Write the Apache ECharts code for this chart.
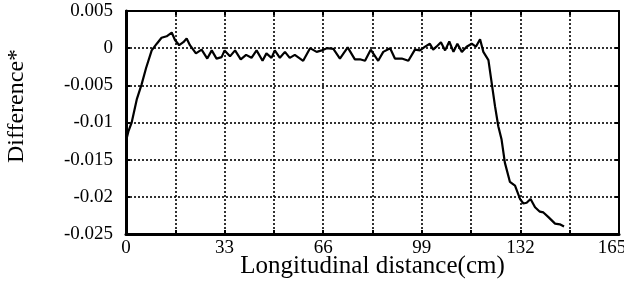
<!DOCTYPE html>
<html>
<head>
<meta charset="utf-8">
<script src="https://cdn.jsdelivr.net/npm/echarts@6/dist/echarts.min.js"></script>
<style>
  html, body { margin: 0; padding: 0; background: #fff; }
  #chart { width: 624px; height: 286px; }
</style>
</head>
<body>
<div id="chart"></div>
<script>
// longitudinal distance (cm)
const xs = [0, 0.8, 1.9, 3.6, 5.2, 6.7, 8.6, 10.3, 11.9, 13.6, 15.3, 16.4, 17.8, 19.2, 20.3, 21.4, 23.4, 25.3, 27.2, 28.7,
  30.3, 32.0, 33.0, 34.8, 36.5, 38.4, 40.2, 42.0, 43.7, 45.7, 47.0, 48.7, 49.8, 51.5, 53.2, 54.8, 56.5, 59.3, 61.6, 63.8,
  65.5, 67.2, 69.4, 71.6, 74.2, 76.6, 78.3, 80.0, 81.9, 84.4, 86.1, 88.4, 90.0, 92.3, 94.5, 96.7, 98.4, 100.1, 101.7, 102.8,
  103.9, 105.4, 106.8, 108.2, 109.6, 110.9, 112.4, 114.0, 115.7, 117.1, 118.5, 119.6, 121.3, 122.4, 123.5, 124.6, 125.7, 126.8, 128.5, 130.2,
  131.9, 133.0, 134.1, 135.4, 136.9, 138.5, 139.7, 141.3, 143.6, 145.2, 145.8, 146.6]
// difference*
const ys = [-0.0125, -0.0112, -0.0100, -0.0069, -0.0049, -0.0027, -0.0003, 0.0006, 0.0014, 0.0016, 0.0021, 0.0011, 0.0004, 0.0008, 0.0013, 0.0004, -0.0007, -0.0002, -0.0014, -0.0003,
  -0.0014, -0.0012, -0.0003, -0.0011, -0.0003, -0.0015, -0.0009, -0.0013, -0.0003, -0.0017, -0.0007, -0.0013, -0.0003, -0.0013, -0.0005, -0.0013, -0.0009, -0.0017, 0.0000, -0.0005,
  -0.0003, 0.0000, -0.0001, -0.0014, 0.0001, -0.0015, -0.0015, -0.0017, -0.0002, -0.0017, -0.0005, 0.0000, -0.0014, -0.0014, -0.0017, -0.0002, -0.0003, 0.0002, 0.0006, -0.0002,
  0.0002, 0.0008, -0.0003, 0.0009, -0.0005, 0.0006, -0.0005, 0.0002, 0.0006, 0.0002, 0.0012, -0.0005, -0.0016, -0.0047, -0.0078, -0.0105, -0.0123, -0.0154, -0.0180, -0.0185,
  -0.0203, -0.0209, -0.0208, -0.0203, -0.0214, -0.0220, -0.0221, -0.0227, -0.0236, -0.0237, -0.0236, -0.0240]
const xLabels = [0, 33, 66, 99, 132, 165]
const yTicks = [-0.025, -0.02, -0.015, -0.01, -0.005, 0, 0.005]

const font = 'Liberation Serif'
const chart = echarts.init(document.getElementById('chart'))

const dotted = { show: true, lineStyle: { color: '#000', width: 1.6, type: [2, 2] } }
const frame = (w) => ({ show: true, onZero: false, lineStyle: { color: '#000', width: w } })
const ticks = { show: true, inside: true, length: 4, lineStyle: { color: '#000', width: 2 } }

const option = {
  animation: false,
  grid: { left: 126, right: 5, top: 11, bottom: 52, outerBoundsMode: 'none', containLabel: false },
  graphic: [
    {
      // y axis title, sits a bit above the axis middle in the original
      type: 'text', x: 17, y: 106, rotation: Math.PI / 2,
      style: { text: 'Difference*', font: '24px "Liberation Serif"', fill: '#000', align: 'center', verticalAlign: 'middle' }
    }
  ],
  xAxis: [
    {
      type: 'value', min: 0, max: 165, interval: 16.5,
      name: 'Longitudinal distance(cm)', nameLocation: 'middle', nameGap: 20, nameMoveOverlap: false,
      nameTextStyle: { fontFamily: font, fontSize: 25, color: '#000', verticalAlign: 'top' },
      axisLine: frame(3), axisTick: ticks, splitLine: dotted,
      axisLabel: {
        fontFamily: font, fontSize: 19, color: '#000', margin: 5,
        formatter: (v) => {
          const r = Math.round(v * 10) / 10
          if (xLabels.indexOf(r) < 0) return ''
          return r === 165 ? '{m|165}' : String(r)
        },
        rich: { m: { fontFamily: font, fontSize: 19, color: '#000', padding: [0, 14, 0, 0] } }
      }
    },
    {
      type: 'value', position: 'top', min: 0, max: 165, interval: 16.5,
      axisLine: frame(2), axisTick: ticks, splitLine: { show: false }, axisLabel: { show: false }
    }
  ],
  yAxis: [
    {
      type: 'value', min: -0.025, max: 0.005, interval: 0.005,
      axisLine: frame(3), axisTick: ticks, splitLine: dotted,
      axisLabel: {
        fontFamily: font, fontSize: 19, color: '#000', margin: 13,
        formatter: (v) => {
          const t = yTicks.find((k) => Math.abs(k - v) < 1e-9)
          return t === undefined ? '' : String(t)
        }
      }
    },
    {
      type: 'value', position: 'right', min: -0.025, max: 0.005, interval: 0.005,
      axisLine: frame(2), axisTick: ticks, splitLine: { show: false }, axisLabel: { show: false }
    }
  ],
  series: [
    {
      type: 'line',
      data: xs.map((x, i) => [x, ys[i]]),
      showSymbol: false,
      lineStyle: { color: '#000', width: 2.2 },
      z: 5
    }
  ]
}
chart.setOption(option)
</script>
</body>
</html>
